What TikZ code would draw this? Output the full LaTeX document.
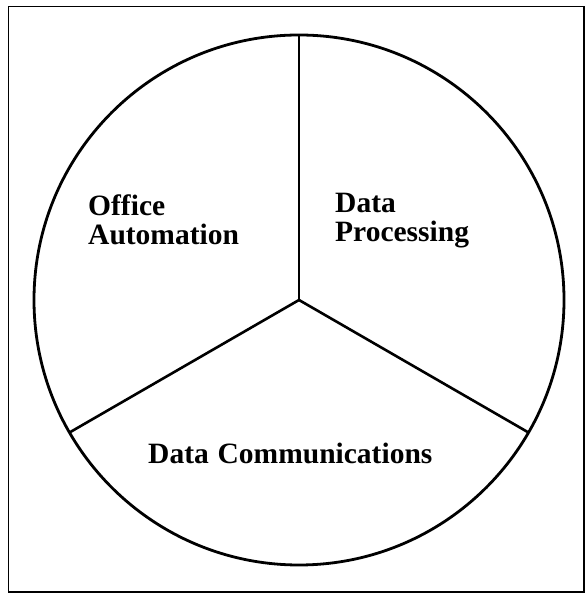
\documentclass[tikz,border=0pt]{standalone}
\usepackage{fontspec}
\setmainfont{Liberation Serif}
\usepackage{tikz}
\usetikzlibrary{calc}

\tikzset{
  sector/.style={anchor=base west, inner sep=0pt, align=left,
    font=\fontsize{29.5}{29.5}\selectfont\bfseries},
}

\begin{document}
\begin{tikzpicture}[x=1pt,y=1pt]
\useasboundingbox (0,0) rectangle (586,593);

%Frame
\draw[line width=1.8pt] (8.5,586.5) rectangle (584,1);

%Circle
\coordinate (c) at (299,293);
\draw[line width=2.8pt] (c) circle (265);

%Spokes
\draw[line width=2.6pt] (c) -- ++(90:265) coordinate (top);
\draw[line width=2.6pt] (c) -- ++(210:265) coordinate (left);
\draw[line width=2.6pt] (c) -- ++(330:265) coordinate (right);

%Labels (base = last line)
\node[sector] (office) at (88,348) {Office\\Automation};
\node[sector] (proc) at (335,351) {Data\\Processing};
\node[sector] (comm) at (148,129) {Data\hspace{0.3em}Communications};

\end{tikzpicture}
\end{document}
